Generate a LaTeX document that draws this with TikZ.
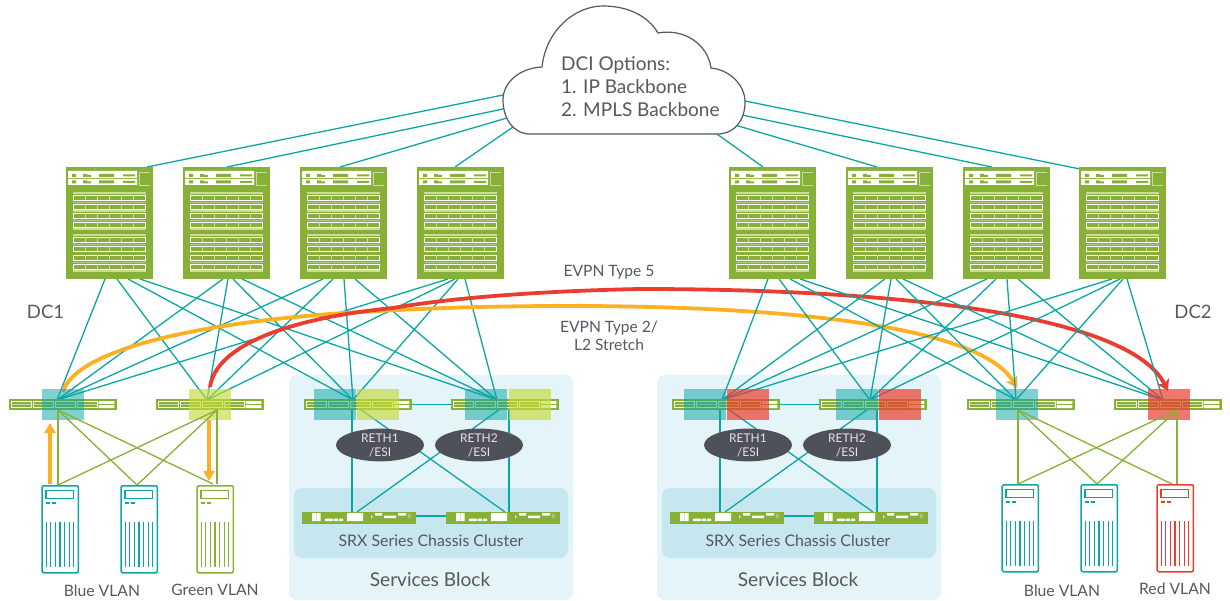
\documentclass[tikz,border=0pt]{standalone}
\usepackage{fontspec}
\setmainfont{Lato}
\usetikzlibrary{arrows.meta,shapes.geometric}
\definecolor{tealc}{HTML}{0AA6A6}
\definecolor{greenc}{HTML}{87B136}
\definecolor{palec}{HTML}{C9DBA3}
\definecolor{textc}{HTML}{55585F}
\definecolor{orangec}{HTML}{FDB021}
\definecolor{redc}{HTML}{E93D30}
\definecolor{yellowc}{HTML}{C6D93A}
\definecolor{blockc}{HTML}{E4F4F8}
\definecolor{clusterc}{HTML}{C6E7EF}
\definecolor{ellc}{HTML}{4E5159}
\tikzset{
  x=1pt,y=-1pt,
  uplink/.style={draw=tealc,line width=1.3pt},
  downlink/.style={draw=greenc,line width=1.3pt},
  spinebox/.style={fill=greenc,draw=none,inner sep=0pt,minimum width=87pt,minimum height=112pt},
  leafbox/.style={fill=greenc,draw=none,inner sep=0pt,minimum width=108pt,minimum height=11pt},
  srxbox/.style={fill=greenc,draw=none,inner sep=0pt,minimum width=114pt,minimum height=12pt},
  tealsq/.style={fill=tealc,fill opacity=.52,draw=none},
  yellowsq/.style={fill=yellowc,fill opacity=.65,draw=none},
  redsq/.style={fill=redc,fill opacity=.7,draw=none},
  lbl/.style={text=textc,inner sep=0pt,align=center},
  reth/.style={ellipse,fill=ellc,draw=none,minimum width=88pt,minimum height=31pt,inner sep=0pt,
    text=white!85!ellc,font=\fontsize{12}{14}\selectfont,align=center},
  curvearrow/.style={line width=3.8pt,-{Stealth[length=11pt,width=13pt,inset=3pt]}},
  vertarrow/.style={draw=orangec,line width=4pt,-{Triangle[length=10pt,width=11pt]}},
}
% spine: name, left x
\newcommand{\spinesw}[2]{%
  \node[spinebox,anchor=north west] (#1) at (#2,167) {};
  \begin{scope}[shift={(#2,167)}]
    \fill[white] (2,4) rectangle (71,11) (2,12) rectangle (71,18);
    \foreach \yy in {7,13.5} {
      \fill[greenc] (6,\yy) rectangle (10,\yy+3) (17,\yy) rectangle (21,\yy+3)
        (21,\yy+1) rectangle (25,\yy+3) (33,\yy) rectangle (48,\yy+3)
        (57,\yy+.5) rectangle (69,\yy+2.5);
    }
    \draw[palec,line width=.9pt] (84,5) -- (73,5) -- (73,18) -- (84,18);
    \foreach \yy in {25,43,61,67,103} \fill[palec] (7,\yy) rectangle (80,\yy+2);
    \foreach \yy in {28,37,46,55,70.3,79.3,88.3,97.3} {
      \draw[white,line width=.9pt] (7.5,\yy) rectangle (79.5,\yy+5);
      \foreach \xx in {19.5,31.5,43.5,55.5,67.5}
        \draw[palec,line width=.9pt] (\xx,\yy) -- (\xx,\yy+5);
    }
    \foreach \yy in {34.8,52.8,76.8,94.8} \fill[palec,opacity=.6] (7,\yy) rectangle (80,\yy+.9);
  \end{scope}
}
% leaf: name, left x, bottom port x
\newcommand{\leafsw}[3]{%
  \node[leafbox,anchor=north west] (#1) at (#2,399) {};
  \coordinate (#1b) at (#3,410);
  \begin{scope}[shift={(#2,399)}]
    \foreach \xx in {2,24.3,46,68} {
      \draw[white,line width=.7pt] (\xx,2.3) rectangle (\xx+20.2,8.7);
      \draw[palec,line width=.6pt] (\xx,5.5) -- (\xx+20.2,5.5);
    }
    \fill[white] (89.7,2) rectangle (105.4,4.9) (89.7,6.2) rectangle (105.4,9);
  \end{scope}
}
% srx: name, left x
\newcommand{\srxsw}[2]{%
  \node[srxbox,anchor=north west] (#1) at (#2,512) {};
  \begin{scope}[shift={(#2,512)}]
    \fill[white] (10,1) rectangle (14,9) (14.7,1) rectangle (18.7,9)
      (23,6.5) rectangle (31.3,9) (32,6.5) rectangle (36,9) (37,6.5) rectangle (41,9)
      (45,1) rectangle (61,9) (69,3.5) rectangle (70.3,6)
      (73,1) rectangle (80,3.5) (82,3.5) rectangle (94,6) (96,1) rectangle (104,3.5);
    \fill[white,opacity=.75] (105.5,2.5) rectangle (106.8,3.6) (107.6,2.5) rectangle (108.9,3.6)
      (105.5,4.6) rectangle (106.8,5.7) (107.6,4.6) rectangle (108.9,5.7);
  \end{scope}
}
% server: name, left x, top y, colour
\newcommand{\serversw}[4]{%
  \node[draw=#4,line width=1.5pt,rounded corners=1.5pt,inner sep=0pt,minimum width=36.4pt,minimum height=87pt,anchor=north west,fill=white] (#1) at (#2+.3,#3) {};
  \begin{scope}[shift={(#2,#3)}]
    \draw[#4,line width=1.1pt] (5,5.3) rectangle (32.8,13.8);
    \draw[#4,line width=1.1pt] (5,18) -- (9,18) (11,18) -- (15,18);
    \foreach \xx in {5.2,9.8,14.4,19,23.6,28.2,32.8}
      \draw[#4,line width=1.2pt] (\xx,37) -- (\xx,82);
  \end{scope}
}
\begin{document}
\begin{tikzpicture}
\useasboundingbox (0,0) rectangle (1230,601);
% service blocks
\fill[blockc,rounded corners=8pt] (289,375) rectangle (573,600);
\fill[blockc,rounded corners=8pt] (657,375) rectangle (941,600);
\fill[clusterc,rounded corners=8pt] (294,488) rectangle (568,558);
\fill[clusterc,rounded corners=8pt] (662,488) rectangle (936,558);
% anchors used by connectors
\coordinate (l1t) at (57,400); \coordinate (l2t) at (207,400);
\coordinate (l3t) at (353,400); \coordinate (l4t) at (497,400);
\coordinate (l5t) at (722,400); \coordinate (l6t) at (870,400);
\coordinate (l7t) at (1016,400); \coordinate (l8t) at (1163,400);
\coordinate (s1p1) at (105,279); \coordinate (s1p2) at (117,279); \coordinate (s1p3) at (128,279); \coordinate (s1p4) at (140,279);
\coordinate (s2p1) at (223,279); \coordinate (s2p2) at (228,279); \coordinate (s2p3) at (233,279); \coordinate (s2p4) at (242,279);
\coordinate (s3p1) at (323,279); \coordinate (s3p2) at (333,279); \coordinate (s3p3) at (344,279); \coordinate (s3p4) at (355,279);
\coordinate (s4p1) at (448,279); \coordinate (s4p2) at (455,279); \coordinate (s4p3) at (458,279); \coordinate (s4p4) at (465,279);
\coordinate (s5p1) at (768,279); \coordinate (s5p2) at (779,279); \coordinate (s5p3) at (790,279); \coordinate (s5p4) at (800,279);
\coordinate (s6p1) at (885,279); \coordinate (s6p2) at (891,279); \coordinate (s6p3) at (896,279); \coordinate (s6p4) at (903,279);
\coordinate (s7p1) at (987,279); \coordinate (s7p2) at (996,279); \coordinate (s7p3) at (1007,279); \coordinate (s7p4) at (1018,279);
\coordinate (s8p1) at (1112,279); \coordinate (s8p2) at (1120,279); \coordinate (s8p3) at (1123,279); \coordinate (s8p4) at (1127,279);
% left fabric
\foreach \i in {1,...,4}
  \foreach \j in {1,...,4}
    \draw[uplink] (s\i p\j) -- (l\j t);
% stretch curves
\coordinate (oa) at (63,392); \coordinate (ob) at (1017,388);
\coordinate (ra) at (210,387); \coordinate (rb) at (1168,391);
\draw[orangec,curvearrow] (oa) .. controls (74,352) and (190,322) .. (360,312)
  .. controls (430,308) and (490,306) .. (570,306)
  .. controls (780,306) and (980,325) .. (ob);
\draw[redc,curvearrow] (ra) .. controls (216,345) and (290,318) .. (393,308)
  .. controls (450,298) and (540,291) .. (640,289)
  .. controls (900,289) and (1130,315) .. (rb);
% right fabric
\foreach \i in {5,...,8}
  \foreach \j/\m in {5/1,6/2,7/3,8/4}
    \draw[uplink] (s\i p\m) -- (l\j t);
% services connections
\coordinate (a3) at (352,408); \coordinate (a4) at (509,408);
\coordinate (c3) at (353,404); \coordinate (c4) at (507,404);
\coordinate (f1v) at (352,512); \coordinate (f2v) at (509,512);
\coordinate (f1x) at (357,512); \coordinate (f2x) at (505,512);
\draw[uplink] (a3) -- (f1v); \draw[uplink] (a4) -- (f2v);
\draw[uplink] (c3) -- (f2x); \draw[uplink] (c4) -- (f1x);
\coordinate (a5) at (720,408); \coordinate (a6) at (877,408);
\coordinate (c5) at (721,404); \coordinate (c6) at (875,404);
\coordinate (g1v) at (720,512); \coordinate (g2v) at (877,512);
\coordinate (g1x) at (725,512); \coordinate (g2x) at (873,512);
\draw[uplink] (a5) -- (g1v); \draw[uplink] (a6) -- (g2v);
\draw[uplink] (c5) -- (g2x); \draw[uplink] (c6) -- (g1x);
% cloud uplinks
\coordinate (k1) at (503,95); \coordinate (k2) at (503,109); \coordinate (k3) at (507,118); \coordinate (k4) at (513,127);
\coordinate (k5) at (717,134); \coordinate (k6) at (735,125); \coordinate (k7) at (742,115); \coordinate (k8) at (745,101);
\coordinate (u1) at (147,167); \coordinate (u2) at (227,167); \coordinate (u3) at (340,167); \coordinate (u4) at (455,167);
\coordinate (u5) at (763,167); \coordinate (u6) at (877,167); \coordinate (u7) at (992,167); \coordinate (u8) at (1080,169);
\foreach \i in {1,...,8} \draw[uplink] (u\i) -- (k\i);
% spines
\spinesw{s1}{66}
\spinesw{s2}{183}
\spinesw{s3}{300}
\spinesw{s4}{417}
\spinesw{s5}{729}
\spinesw{s6}{846}
\spinesw{s7}{963}
\spinesw{s8}{1079}
% leaves
\leafsw{l1}{9}{58}
\leafsw{l2}{156}{217}
\leafsw{l3}{304}{352}
\leafsw{l4}{451}{509}
\leafsw{l5}{672}{720}
\leafsw{l6}{819}{877}
\leafsw{l7}{967}{1018}
\leafsw{l8}{1114}{1177}
\draw[uplink] (l3) -- (l4);
\draw[uplink] (l5) -- (l6);
% VLAN overlays
\fill[tealsq] (42,389) rectangle (84,420);
\fill[yellowsq] (189,389) rectangle (231,420);
\fill[tealsq] (314,389) rectangle (356,420);
\fill[yellowsq] (357,389) rectangle (399,420);
\fill[tealsq] (465,389) rectangle (507,420);
\fill[yellowsq] (509,389) rectangle (551,420);
\fill[tealsq] (684,389) rectangle (726,420);
\fill[redsq] (727,389) rectangle (769,420);
\fill[tealsq] (836,389) rectangle (878,420);
\fill[redsq] (879,389) rectangle (921,420);
\fill[tealsq] (996,389) rectangle (1038,420);
\fill[redsq] (1148,389) rectangle (1190,420);
% servers
\serversw{h1}{41}{485}{tealc}
\serversw{h2}{120}{485}{tealc}
\serversw{h3}{196}{485}{greenc}
\serversw{h4}{1001}{484}{tealc}
\serversw{h5}{1080}{484}{tealc}
\serversw{h6}{1156}{484}{redc}
% access links
\coordinate (h1a) at (58,485); \coordinate (h2a) at (137,485); \coordinate (h3a) at (213,484); \coordinate (h3b) at (217,484);
\coordinate (h4a) at (1018,484); \coordinate (h5a) at (1097,484); \coordinate (h6a) at (1172,484); \coordinate (h6b) at (1177,484);
\draw[downlink] (l1b) -- (h1a); \draw[downlink] (l1b) -- (h2a); \draw[downlink] (l1b) -- (h3a);
\draw[downlink] (l2b) -- (h3b); \draw[downlink] (l2b) -- (h2a); \draw[downlink] (l2b) -- (h1a);
\draw[downlink] (l7b) -- (h4a); \draw[downlink] (l7b) -- (h5a); \draw[downlink] (l7b) -- (h6a);
\draw[downlink] (l8b) -- (h6b); \draw[downlink] (l8b) -- (h5a); \draw[downlink] (l8b) -- (h4a);
% orange vertical arrows
\coordinate (va1) at (50,484); \coordinate (va2) at (50,423);
\coordinate (vb1) at (209,420); \coordinate (vb2) at (209,481);
\draw[vertarrow] (va1) -- (va2);
\draw[vertarrow] (vb1) -- (vb2);
% SRX
\srxsw{f1}{302}
\srxsw{f2}{446}
\srxsw{g1}{670}
\srxsw{g2}{814}
\draw[uplink] (f1.east |- 0,516) -- (f2.west |- 0,516);
\draw[uplink] (g1.east |- 0,516) -- (g2.west |- 0,516);
% RETH
\node[reth] (r1) at (380,445) {RETH1\\/ESI};
\node[reth] (r2) at (479,445) {RETH2\\/ESI};
\node[reth] (r3) at (748,445) {RETH1\\/ESI};
\node[reth] (r4) at (847,445) {RETH2\\/ESI};
% cloud
\draw[fill=white,draw=textc,line width=1.2pt] (530,134) .. controls (513,134) and (503,118) .. (503,100)
  .. controls (503,82) and (520,68) .. (542,67)
  .. controls (546,30) and (575,6) .. (603,6)
  .. controls (628,6) and (648,16) .. (658,33)
  .. controls (685,28) and (708,45) .. (711,68)
  .. controls (730,70) and (745,85) .. (745,102)
  .. controls (745,120) and (735,134) .. (717,134) -- cycle;
\node[lbl,anchor=west,align=left,font=\fontsize{19}{23}\selectfont] (dci) at (561,87) {DCI Options:\\1. IP Backbone\\2. MPLS Backbone};
% labels
\node[lbl,font=\fontsize{18.5}{20}\selectfont] (dc1) at (45.5,312) {DC1};
\node[lbl,font=\fontsize{18.5}{20}\selectfont] (dc2) at (1193,312) {DC2};
\node[lbl,font=\fontsize{15.6}{18}\selectfont] (t5) at (609,272) {EVPN Type 5};
\node[lbl,font=\fontsize{15.6}{18.5}\selectfont] (t2) at (609,336) {EVPN Type 2/\\L2 Stretch};
\node[lbl,font=\fontsize{15.9}{18}\selectfont] (c1) at (431,541) {SRX Series Chassis Cluster};
\node[lbl,font=\fontsize{15.9}{18}\selectfont] (c2) at (798,541) {SRX Series Chassis Cluster};
\node[lbl,font=\fontsize{19.1}{21}\selectfont] (b1) at (430,580) {Services Block};
\node[lbl,font=\fontsize{19.1}{21}\selectfont] (b2) at (798,580) {Services Block};
\node[lbl,font=\fontsize{15.7}{18}\selectfont] (v1) at (102,591) {Blue VLAN};
\node[lbl,font=\fontsize{15.7}{18}\selectfont] (v2) at (215,590) {Green VLAN};
\node[lbl,font=\fontsize{15.7}{18}\selectfont] (v3) at (1062,591) {Blue VLAN};
\node[lbl,font=\fontsize{15.7}{18}\selectfont] (v4) at (1175,589) {Red VLAN};
\end{tikzpicture}
\end{document}
